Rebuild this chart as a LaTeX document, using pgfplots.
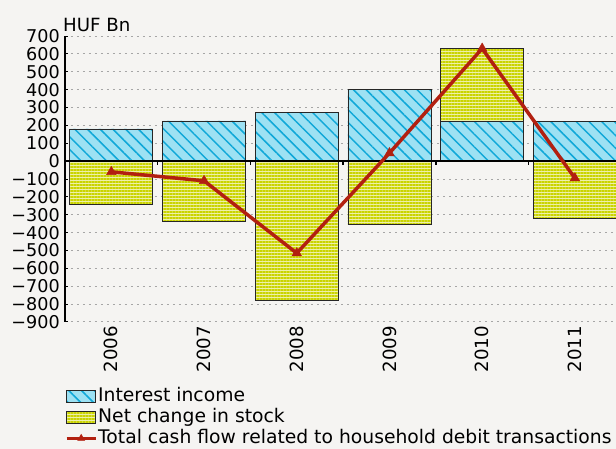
\documentclass[border=0pt]{standalone}
\usepackage{pgfplots}
\pgfplotsset{compat=1.18}
\usetikzlibrary{patterns.meta}
\usepackage{fontspec}
\setmainfont{DejaVu Sans}
\definecolor{bg}{HTML}{F5F4F2}
\definecolor{cyanfill}{HTML}{9DE1F3}
\definecolor{cyanline}{HTML}{10A8D8}
\definecolor{ylfill}{HTML}{EEF0A8}
\definecolor{ylline}{HTML}{CAD400}
\definecolor{linered}{HTML}{B22010}
\newcommand{\chartfont}{\fontsize{18.2pt}{21pt}\selectfont}
\newcommand{\ytfont}{\fontsize{17.6pt}{21pt}\selectfont}
\newcommand{\legfont}{\fontsize{18.75pt}{21pt}\selectfont}
\begin{document}
\chartfont
\begin{tikzpicture}
\fill[bg] (-65pt,-127pt) rectangle (551pt,322pt);
\begin{axis}[
  scale only axis, width=551pt, height=286pt,
  at={(0pt,0pt)}, anchor=south west,
  xmin=-0.5, xmax=5.444,
  ymin=-900, ymax=700,
  axis y line*=left,
  axis x line*=bottom,
  x axis line style={draw=none},
  y axis line style={black, line width=1.6pt},
  xtick={0,1,2,3,4,5},
  xticklabels={2006,2007,2008,2009,2010,2011},
  x tick label style={rotate=90, anchor=east, font=\chartfont, inner sep=1pt},
  xtick style={draw=none},
  ytick={-900,-800,...,700},
  yticklabels={−900,−800,−700,−600,−500,−400,−300,−200,−100,0,100,200,300,400,500,600,700},
  y tick label style={font=\ytfont, inner sep=1pt, xshift=-4pt},
  ytick style={black, line width=1pt},
  tick align=inside, major tick length=3pt,
  ymajorgrids,
  grid style={gray!70, line width=1pt, dash pattern=on 2pt off 4pt},
  ybar, bar width=0.895, bar shift=0pt,
  legend style={at={(0,-0.226)}, anchor=north west, draw=none, fill=none,
    font=\legfont, row sep=2pt, inner sep=0pt,
    nodes={inner sep=1pt, text height=13.5pt, text depth=3.5pt},
    legend cell align=left},
  clip=true,
]
\addlegendimage{legend image code/.code={\draw[draw=black!85, line width=0.8pt, fill=cyanfill, postaction={pattern={Lines[angle=-45,distance=9pt,line width=1.5pt]}, pattern color=cyanline}] (0pt,-6pt) rectangle (29pt,6pt);}}
\addlegendentry{Interest income}
\addlegendimage{legend image code/.code={\draw[draw=black!85, line width=0.8pt, fill=ylfill, postaction={pattern={Lines[angle=0,distance=3pt,line width=1.5pt]}, pattern color=ylline}] (0pt,-6pt) rectangle (29pt,6pt);}}
\addlegendentry{Net change in stock}
\addlegendimage{legend image code/.code={\draw[linered, line width=3pt] (0pt,0pt) -- (29pt,0pt);
  \begin{scope}[shift={(14.5pt,0pt)}, mark size=4pt] \pgfsetfillcolor{linered}\pgfsetstrokecolor{linered}\pgfsetlinewidth{0.5pt}\pgfuseplotmark{triangle*}\end{scope}}}
\addlegendentry{Total cash flow related to household debit transactions}
\addplot[forget plot, draw=black!85, line width=0.8pt, fill=ylfill,
  postaction={pattern={Lines[angle=0,distance=3pt,line width=1.5pt]}, pattern color=ylline}]
  coordinates {(0,-240) (1,-335) (2,-780) (3,-355) (4,630) (5,-320)};
\addplot[forget plot, draw=black!85, line width=0.8pt, fill=cyanfill,
  postaction={pattern={Lines[angle=-45,distance=9pt,line width=1.5pt]}, pattern color=cyanline}]
  coordinates {(0,180) (1,225) (2,270) (3,400) (4,220) (5,220)};
\draw[black, line width=1.4pt] (axis cs:-0.5,0) -- (axis cs:5.5,0);
\pgfplotsinvokeforeach{0.5,1.5,2.5,3.5,4.5}{\draw[black, line width=1.5pt] (axis cs:#1,0) -- ++(0pt,-4pt);}
\addplot[forget plot, sharp plot, linered, line width=3.5pt, mark=triangle*, mark size=5.5pt, mark options={line width=0.5pt}]
  coordinates {(0,-60) (1,-110) (2,-515) (3,45) (4,630) (5,-95)};
\end{axis}
\node[anchor=base west, inner sep=0pt, font=\chartfont] at (-2pt,290pt) {HUF Bn};
\pgfresetboundingbox
\path (-65pt,-127pt) rectangle (551pt,322pt);
\end{tikzpicture}
\end{document}
